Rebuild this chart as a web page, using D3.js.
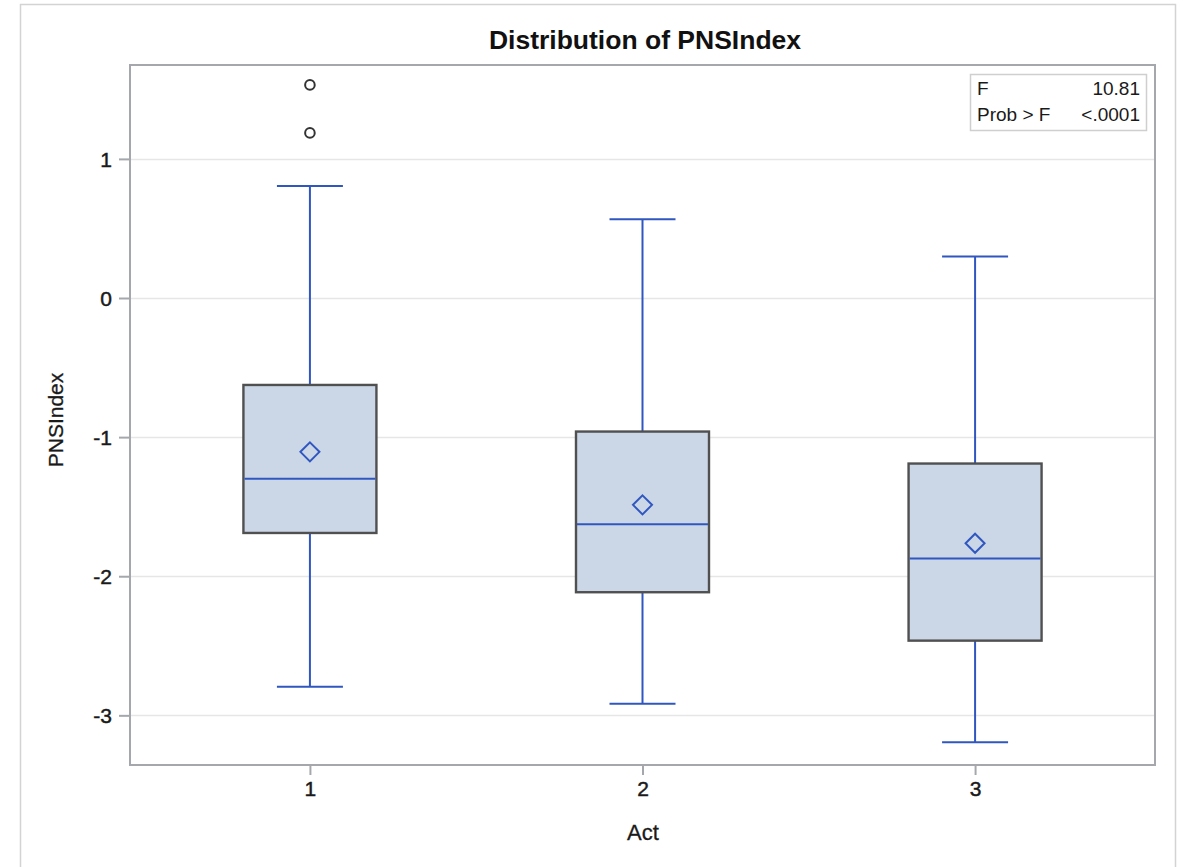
<!DOCTYPE html>
<html>
<head>
<meta charset="utf-8">
<script src="https://cdn.jsdelivr.net/npm/d3@7"></script>
<style>
  html, body { margin: 0; padding: 0; background: #fff; }
  svg { display: block; font-family: "Liberation Sans", Arial, Helvetica, sans-serif; }
</style>
</head>
<body>
<svg id="chart" width="1186" height="867"></svg>
<script>
// ---- data ----
const categories = ["1", "2", "3"];
const whiskerLow  = [-2.795, -2.916, -3.193];
const q1Values    = [-1.689, -2.115, -2.463];
const medianValues= [-1.300, -1.626, -1.873];
const q3Values    = [-0.625, -0.960, -1.190];
const whiskerHigh = [0.806, 0.566, 0.298];
const meanValues  = [-1.106, -1.487, -1.763];
const outlierCats = ["1", "1"];
const outlierValues = [1.532, 1.187];
const yTicks = [-3, -2, -1, 0, 1];
const statLabels = ["F", "Prob > F"];
const statValues = ["10.81", "<.0001"];

const chartTitle = "Distribution of PNSIndex";
const xLabel = "Act";
const yLabel = "PNSIndex";

(function () {
// ---- layout ----
const svg = d3.select("#chart");
const pLeft = 130, pRight = 1155, pTop = 65, pBottom = 765;
const blue = "#3057c0";
const ink = "#1a1a1a";

const x = d3.scalePoint().domain(categories).range([pLeft, pRight]).padding(0.541);
const y = d3.scaleLinear().domain([-3.357, 1.675]).range([pBottom, pTop]);

// outer border
svg.append("rect").attr("x", 20.5).attr("y", 4.5).attr("width", 1155).attr("height", 880)
  .attr("fill", "none").attr("stroke", "#d3d3d3").attr("stroke-width", 1.5);

// grid
svg.append("g").selectAll("line").data(yTicks).join("line")
  .attr("x1", pLeft).attr("x2", pRight)
  .attr("y1", d => Math.round(y(d)) + 0.5).attr("y2", d => Math.round(y(d)) + 0.5)
  .attr("stroke", "#e6e6e6").attr("stroke-width", 1.5);

// axes
const yAxis = svg.append("g").attr("transform", `translate(${pLeft},0)`)
  .call(d3.axisLeft(y).tickValues(yTicks).tickSize(11).tickPadding(7).tickFormat(d => String(d)));
const xAxis = svg.append("g").attr("transform", `translate(0,${pBottom})`)
  .call(d3.axisBottom(x).tickSize(10).tickPadding(6));
[yAxis, xAxis].forEach(g => {
  g.select(".domain").remove();
  g.selectAll(".tick line").attr("stroke", "#a4a8ac").attr("stroke-width", 2);
  g.selectAll(".tick text").attr("fill", ink).attr("font-size", 21)
    .attr("stroke", ink).attr("stroke-width", 0.45);
});
yAxis.selectAll(".tick text").attr("dy", "0.36em");

// plot frame
svg.append("rect").attr("x", pLeft).attr("y", pTop).attr("width", pRight - pLeft).attr("height", pBottom - pTop)
  .attr("fill", "none").attr("stroke", "#a4a8ac").attr("stroke-width", 2);

// boxes
const boxW = 133, capW = 66;
const rows = categories.map((c, i) => ({
  c, lo: whiskerLow[i], q1: q1Values[i], med: medianValues[i], q3: q3Values[i], hi: whiskerHigh[i], mean: meanValues[i]
}));
const g = svg.append("g");
rows.forEach(r => {
  const cx = x(r.c);
  g.append("line").attr("x1", cx).attr("x2", cx).attr("y1", y(r.hi)).attr("y2", y(r.q3))
    .attr("stroke", blue).attr("stroke-width", 2);
  g.append("line").attr("x1", cx).attr("x2", cx).attr("y1", y(r.q1)).attr("y2", y(r.lo))
    .attr("stroke", blue).attr("stroke-width", 2);
  g.append("line").attr("x1", cx - capW / 2).attr("x2", cx + capW / 2).attr("y1", y(r.hi)).attr("y2", y(r.hi))
    .attr("stroke", blue).attr("stroke-width", 2);
  g.append("line").attr("x1", cx - capW / 2).attr("x2", cx + capW / 2).attr("y1", y(r.lo)).attr("y2", y(r.lo))
    .attr("stroke", blue).attr("stroke-width", 2);
  g.append("rect").attr("x", cx - boxW / 2).attr("y", y(r.q3)).attr("width", boxW).attr("height", y(r.q1) - y(r.q3))
    .attr("fill", "#cbd6e6").attr("stroke", "#505050").attr("stroke-width", 2.4);
  g.append("line").attr("x1", cx - boxW / 2 + 1).attr("x2", cx + boxW / 2 - 1).attr("y1", y(r.med)).attr("y2", y(r.med))
    .attr("stroke", blue).attr("stroke-width", 2);
  const d = 9.5;
  const my = y(r.mean);
  g.append("path").attr("d", `M${cx},${my - d}L${cx + d},${my}L${cx},${my + d}L${cx - d},${my}Z`)
    .attr("fill", "none").attr("stroke", blue).attr("stroke-width", 2);
});

// outliers
g.selectAll("circle.out").data(outlierValues.map((v, i) => ({ c: outlierCats[i], v }))).join("circle")
  .attr("class", "out").attr("cx", d => x(d.c)).attr("cy", d => y(d.v)).attr("r", 4.8)
  .attr("fill", "none").attr("stroke", "#333").attr("stroke-width", 2);

// title
svg.append("text").attr("x", 645).attr("y", 49).attr("text-anchor", "middle")
  .attr("font-size", 26.5).attr("font-weight", "bold").attr("fill", "#111").text(chartTitle);

// axis labels
svg.append("text").attr("x", 643).attr("y", 840).attr("text-anchor", "middle")
  .attr("font-size", 22).attr("fill", ink).attr("stroke", ink).attr("stroke-width", 0.3).text(xLabel);
svg.append("text").attr("transform", "translate(63,420) rotate(-90)").attr("text-anchor", "middle")
  .attr("font-size", 21).attr("fill", ink).attr("stroke", ink).attr("stroke-width", 0.3).text(yLabel);

// stat inset
svg.append("rect").attr("x", 970.5).attr("y", 74.5).attr("width", 176).attr("height", 56)
  .attr("fill", "#fff").attr("stroke", "#cfcfcf").attr("stroke-width", 1.5);
statLabels.forEach((t, i) => {
  svg.append("text").attr("x", 977).attr("y", 95 + i * 26).attr("font-size", 19).attr("fill", ink).text(t);
  svg.append("text").attr("x", 1140).attr("y", 95 + i * 26).attr("text-anchor", "end")
    .attr("font-size", 19).attr("fill", ink).text(statValues[i]);
});
})();
</script>
</body>
</html>
